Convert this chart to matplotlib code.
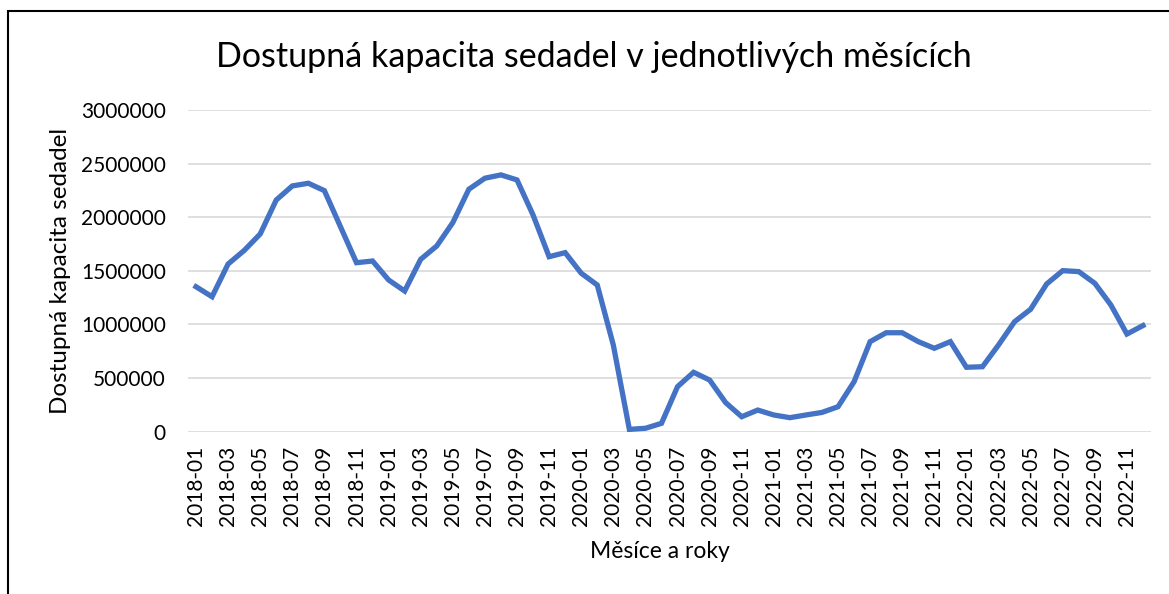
import matplotlib
matplotlib.use("Agg")
from matplotlib import pyplot as plt
from matplotlib.patches import Rectangle

# mesice 2018-01 .. 2022-12
mesice = ['{}-{:02d}'.format(rok, m) for rok in range(2018, 2023) for m in range(1, 13)]

kapacita = [
    1352000, 1259000, 1564000, 1690000, 1844000, 2161000, 2292000, 2317000, 2248000, 1912000, 1576000, 1592000,
    1415000, 1312000, 1608000, 1732000, 1950000, 2261000, 2364000, 2395000, 2348000, 2021000, 1632000, 1670000,
    1478000, 1368000, 809000, 22000, 32000, 78000, 420000, 554000, 482000, 271000, 140000, 202000,
    156000, 131000, 156000, 180000, 233000, 466000, 840000, 923000, 923000, 840000, 778000, 840000,
    601000, 606000, 809000, 1026000, 1142000, 1378000, 1502000, 1493000, 1384000, 1182000, 911000, 990000,
]

plt.rcParams['font.family'] = ['Lato', 'DejaVu Sans']

fig = plt.figure(figsize=(11.69, 5.94), dpi=100)
ax = fig.add_axes([0.1608, 0.2732, 0.8238, 0.5416])

x = list(range(len(mesice)))
ax.plot(x, kapacita, color='#4472C4', linewidth=3.8, solid_joinstyle='miter', zorder=3)

ax.set_xlim(-0.5, len(mesice) - 0.5)
ax.set_ylim(0, 3000000)
ax.set_yticks(range(0, 3000001, 500000))
ax.set_yticklabels([str(v) for v in range(0, 3000001, 500000)], fontsize=15)
ax.set_xticks(x[::2])
ax.set_xticklabels(mesice[::2], rotation=90, fontsize=15)
ax.tick_params(length=0, pad=10)
ax.tick_params(axis='y', pad=16)

ax.grid(axis='y', color='#D9D9D9', linewidth=1.2)
ax.set_axisbelow(True)
for s in ax.spines.values():
    s.set_visible(False)

ax.set_ylabel('Dostupná kapacita sedadel', fontsize=17.5, labelpad=7)
ax.set_xlabel('Měsíce a roky', fontsize=16.5, labelpad=11, x=0.49)
fig.text(0.508, 1 - 67 / 594, 'Dostupná kapacita sedadel v jednotlivých měsících',
         fontsize=24.5, ha='center', va='baseline')

# ramecek grafu (vidi se jen horni a leva hrana)
fig.patches.append(Rectangle((8 / 1169, -0.1), 1.2, 1 - 11 / 594 + 0.1,
                             transform=fig.transFigure, fill=False,
                             edgecolor='black', linewidth=1.5))

fig.savefig('out.png', dpi=100)
